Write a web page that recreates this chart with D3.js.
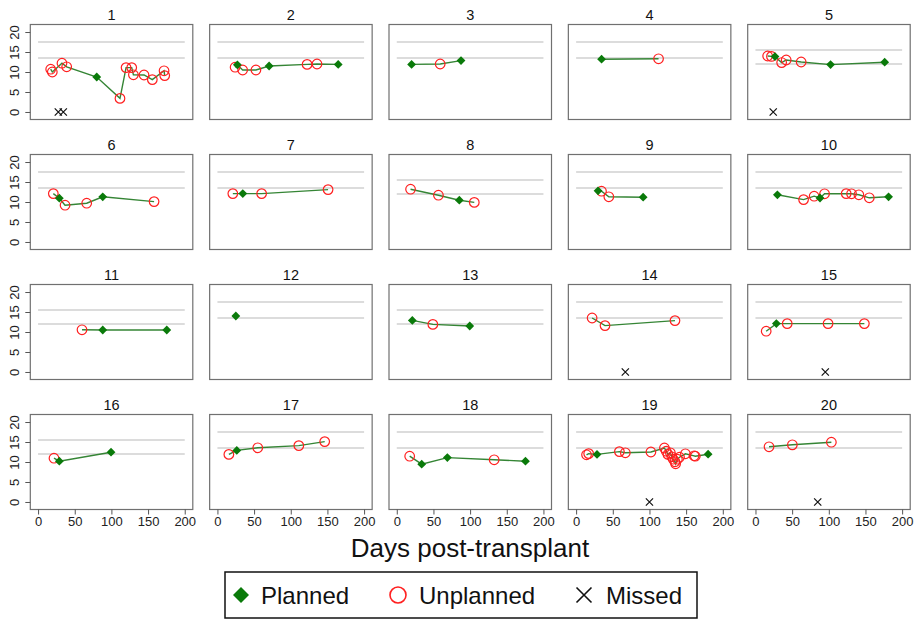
<!DOCTYPE html>
<html><head><meta charset="utf-8">
<script src="https://cdn.jsdelivr.net/npm/d3@7"></script>
<style>body{margin:0;background:#fff}</style>
</head><body><svg id="c" width="916" height="620"></svg>
<script>
const panelIds = d3.range(1, 21);
const refLow  = [13.5,13.5,13.5,13.5,12,13.5,13.5,12,13.5,13.5,12,13.5,12,13.5,13.5,12,13.5,13.5,13.5,13.5];
const refHigh = [17.5,17.5,17.5,17.5,15.5,17.5,17.5,15.5,17.5,17.5,15.5,17.5,15.5,17.5,17.5,15.5,17.5,17.5,17.5,17.5];
const plannedDays = [
  [80], [27.2,70.5,164.7], [20.2,87.6], [34.7], [26.6,102.4,176.2],
  [29,88.2], [34.6], [85.3], [29.9,91.4], [29.9,88,181.5],
  [88.2,175.5], [25.1], [21.2,99.5], [], [28.5],
  [29,99.5], [26.4], [34,69,175.5], [28.5,180], []
];
const plannedHb = [
  [8.75], [11.8,11.5,11.9], [11.9,12.85], [13.2], [13.85,11.85,12.45],
  [10.95,11.3], [12.1], [10.45], [12.8,11.2], [11.8,11.0,11.3],
  [10.5,10.5], [14.0], [12.9,11.5], [], [12.1],
  [10.2,12.45], [12.9], [9.45,11.1,10.2], [11.9,11.95], []
];
const unplannedDays = [
  [17.2,19.4,32.6,39,111.7,120,127.7,130,144.5,155.8,171.8,172.7],
  [24.1,34.4,52.5,122.3,135.8],
  [59.2],
  [112.4],
  [16.6,21.8,35.7,41.9,62.3],
  [20.8,36.8,66.3,158.2],
  [21,60.3,150.9],
  [18.8,56.8,105.7],
  [34.6,44.6],
  [65.6,80,94.2,123.7,131,141,155.2],
  [59.9],
  [],
  [49.2],
  [21.8,39.4,134.8],
  [14.6,43.3,99,148.5],
  [21.7],
  [15.6,55,111,146.3],
  [17.6,132.8],
  [14.2,17.1,59,67.1,102,120.4,122.8,125.2,128.5,130.5,132.4,134.8,135.7,138.1,141,149,160.9,162.5],
  [18.5,50.3,103.5]
];
const unplannedHb = [
  [10.7,10.0,12.2,11.3,3.4,11.1,11.1,9.3,9.25,8.1,10.3,9.1],
  [11.2,10.5,10.5,11.9,12.0],
  [12.0],
  [13.3],
  [14.0,13.9,12.36,13.0,12.5],
  [12.1,9.2,9.7,10.1],
  [12.1,12.1,13.1],
  [13.2,11.7,9.9],
  [12.7,11.3],
  [10.6,11.45,12.05,12.1,12.05,11.8,11.05],
  [10.55],
  [],
  [11.9],
  [13.5,11.6,12.85],
  [10.2,12.1,12.1,12.1],
  [10.95],
  [11.9,13.55,14.1,15.1],
  [11.45,10.55],
  [11.8,12.1,12.6,12.3,12.5,13.5,12.7,11.9,12.3,11.3,10.7,10.05,9.55,10.7,11.2,12.05,11.55,11.45],
  [13.8,14.3,14.95]
];
const missedDays = [
  [27.6,34.4], [], [], [], [24.2],
  [], [], [], [], [],
  [], [], [], [67.1], [95.2],
  [], [], [], [100], [84.9]
];
const xTicks = [0, 50, 100, 150, 200];
const yTicks = [0, 5, 10, 15, 20];
const legendLabels = ["Planned", "Unplanned", "Missed"];
const xTitle = "Days post-transplant";

const svg = d3.select("#c");
svg.append("rect").attr("width", 916).attr("height", 620).attr("fill", "#fff");

const panelW = 162.5, panelH = 95, colStep = 179.35, rowStep = 130, left0 = 30.3, top0 = 24.5;
const x = d3.scaleLinear().domain([-10.6, 211]).range([0, panelW]);
const y = d3.scaleLinear().domain([-1.88, 21.88]).range([panelH, 0]);
const diamond = s => `M0,${-s}L${s},0L0,${s}L${-s},0Z`;
const cross = s => `M${-s},${-s}L${s},${s}M${-s},${s}L${s},${-s}`;
const GREEN_LINE = "#358535", GREEN = "#0a7a0a", RED = "#ff2020";
const NARROW = "'Liberation Sans Narrow','Arial Narrow',sans-serif";
const SANS = "'Liberation Sans',Arial,sans-serif";

panelIds.forEach((id, i) => {
  const c = i % 5, r = Math.floor(i / 5);
  const g = svg.append("g").attr("transform", `translate(${left0 + c * colStep},${top0 + r * rowStep})`);
  [refLow[i], refHigh[i]].forEach(v =>
    g.append("line").attr("x1", x(0)).attr("x2", x(200)).attr("y1", y(v)).attr("y2", y(v))
      .attr("stroke", "#d0d0d0").attr("stroke-width", 1.6));
  const pts = plannedDays[i].map((d, j) => ({d, v: plannedHb[i][j], t: "p"}))
    .concat(unplannedDays[i].map((d, j) => ({d, v: unplannedHb[i][j], t: "u"})))
    .sort((a, b) => a.d - b.d);
  if (pts.length > 1)
    g.append("path").attr("d", d3.line().x(p => x(p.d)).y(p => y(p.v))(pts))
      .attr("fill", "none").attr("stroke", GREEN_LINE).attr("stroke-width", 1.4);
  g.selectAll(".u").data(pts.filter(p => p.t === "u")).join("circle")
    .attr("cx", p => x(p.d)).attr("cy", p => y(p.v)).attr("r", 4.8)
    .attr("fill", "none").attr("stroke", RED).attr("stroke-width", 1.2);
  g.selectAll(".p").data(pts.filter(p => p.t === "p")).join("path")
    .attr("transform", p => `translate(${x(p.d)},${y(p.v)})`).attr("d", diamond(4.4)).attr("fill", GREEN);
  g.selectAll(".m").data(missedDays[i]).join("path")
    .attr("transform", d => `translate(${x(d)},${y(0)})`).attr("d", cross(3.6))
    .attr("stroke", "#111").attr("stroke-width", 1.2).attr("fill", "none");
  g.append("rect").attr("width", panelW).attr("height", panelH)
    .attr("fill", "none").attr("stroke", "#707070").attr("stroke-width", 1.2);
  g.append("text").attr("x", panelW / 2).attr("y", -5).attr("text-anchor", "middle")
    .attr("font-family", NARROW).attr("font-size", 14.5).attr("fill", "#111").text(id);
  if (c === 0) {
    const ax = g.append("g").call(d3.axisLeft(y).tickValues(yTicks).tickSize(5).tickSizeOuter(0));
    ax.select(".domain").remove();
    ax.selectAll("line").attr("stroke", "#555");
    ax.selectAll("text").attr("transform", "rotate(-90)").attr("x", 0).attr("y", -11).attr("dy", 0)
      .attr("text-anchor", "middle").attr("font-family", NARROW).attr("font-size", 13).attr("fill", "#222");
  }
  if (r === 3) {
    const ax = g.append("g").attr("transform", `translate(0,${panelH})`)
      .call(d3.axisBottom(x).tickValues(xTicks).tickSize(5).tickSizeOuter(0));
    ax.select(".domain").remove();
    ax.selectAll("line").attr("stroke", "#555");
    ax.selectAll("text").attr("y", 16.5).attr("dy", 0)
      .attr("font-family", NARROW).attr("font-size", 13).attr("fill", "#222");
  }
});

svg.append("text").attr("x", 470).attr("y", 557).attr("text-anchor", "middle")
  .attr("font-family", SANS).attr("font-size", 26).attr("fill", "#111").text(xTitle);

const lg = svg.append("g");
lg.append("rect").attr("x", 225).attr("y", 572).attr("width", 472).attr("height", 46)
  .attr("fill", "#fff").attr("stroke", "#111").attr("stroke-width", 1.5);
const ly = 595;
lg.append("path").attr("transform", `translate(241,${ly})`).attr("d", diamond(8)).attr("fill", GREEN);
lg.append("circle").attr("cx", 398).attr("cy", ly).attr("r", 8).attr("fill", "none").attr("stroke", RED).attr("stroke-width", 1.6);
lg.append("path").attr("transform", `translate(584,${ly})`).attr("d", cross(7.5)).attr("stroke", "#111").attr("stroke-width", 1.6);
[[261, 0], [419, 1], [606, 2]].forEach(([lx, k]) =>
  lg.append("text").attr("x", lx).attr("y", ly + 8.5).attr("font-family", SANS).attr("font-size", 24)
    .attr("fill", "#111").text(legendLabels[k]));
</script></body></html>
